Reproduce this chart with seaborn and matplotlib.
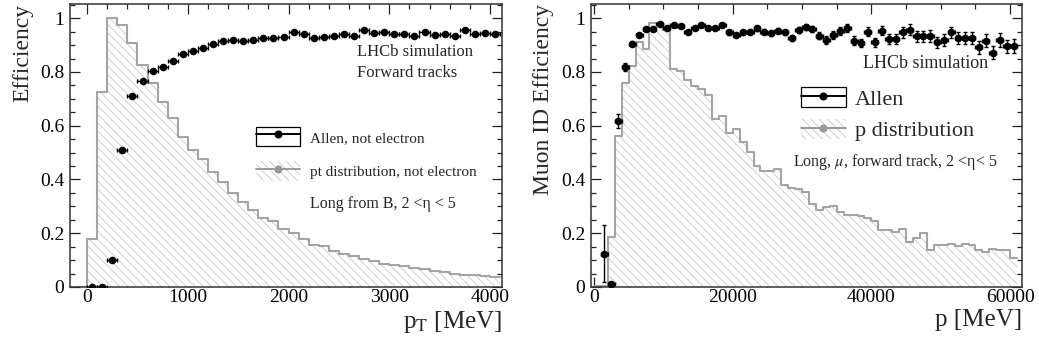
import numpy as np
import pandas as pd
import matplotlib
matplotlib.use("Agg")
import matplotlib.pyplot as plt
from matplotlib.patches import Patch
from matplotlib.lines import Line2D
from matplotlib.ticker import MultipleLocator
import seaborn as sns

# ---- left panel: pT ----
pt_edges = list(range(-100, 4101, 100))
pt_hist = [0.0, 0.178, 0.725, 1.0, 0.975, 0.907, 0.826, 0.758, 0.69, 0.628,
           0.558, 0.51, 0.476, 0.426, 0.389, 0.349, 0.315, 0.287, 0.256, 0.244,
           0.216, 0.2, 0.178, 0.157, 0.151, 0.133, 0.124, 0.114, 0.104, 0.095,
           0.087, 0.08, 0.077, 0.071, 0.067, 0.061, 0.055, 0.05, 0.046, 0.043,
           0.04, 0.037]
pt_eff = [0.0, 0.0, 0.099, 0.51, 0.711, 0.768, 0.804, 0.82, 0.839, 0.866,
          0.877, 0.888, 0.905, 0.915, 0.92, 0.917, 0.918, 0.925, 0.926, 0.93,
          0.948, 0.94, 0.928, 0.93, 0.935, 0.94, 0.935, 0.956, 0.945, 0.947,
          0.94, 0.94, 0.935, 0.947, 0.937, 0.94, 0.935, 0.957, 0.94, 0.945,
          0.943]
pt_eff_err = [0.002, 0.002, 0.006, 0.008, 0.007, 0.006, 0.006, 0.005, 0.005, 0.005,
              0.005, 0.005, 0.005, 0.005, 0.005, 0.005, 0.005, 0.005, 0.005, 0.005,
              0.005, 0.005, 0.005, 0.005, 0.005, 0.005, 0.005, 0.005, 0.005, 0.005,
              0.005, 0.005, 0.005, 0.005, 0.005, 0.005, 0.005, 0.006, 0.006, 0.006,
              0.006]

# ---- right panel: p ----
p_edges = list(range(0, 61001, 1000))
p_hist = [0.005, 0.005, 0.186, 0.56, 0.758, 0.823, 0.911, 0.885, 0.984, 0.984,
          0.957, 0.81, 0.802, 0.77, 0.746, 0.736, 0.715, 0.625, 0.637, 0.572,
          0.587, 0.538, 0.504, 0.449, 0.43, 0.432, 0.44, 0.38, 0.368, 0.364,
          0.352, 0.31, 0.287, 0.297, 0.30, 0.278, 0.269, 0.267, 0.263, 0.255,
          0.244, 0.211, 0.211, 0.203, 0.216, 0.167, 0.182, 0.20, 0.136, 0.155,
          0.155, 0.161, 0.151, 0.161, 0.155, 0.139, 0.13, 0.141, 0.139, 0.139,
          0.108]
p_eff = [0.124, 0.012, 0.618, 0.818, 0.905, 0.936, 0.959, 0.959, 0.979, 0.965,
         0.975, 0.971, 0.948, 0.963, 0.975, 0.963, 0.963, 0.975, 0.947, 0.937,
         0.947, 0.95, 0.963, 0.95, 0.944, 0.954, 0.947, 0.926, 0.957, 0.967,
         0.959, 0.934, 0.919, 0.938, 0.954, 0.963, 0.917, 0.907, 0.95, 0.911,
         0.954, 0.922, 0.922, 0.947, 0.957, 0.932, 0.932, 0.934, 0.91, 0.919,
         0.947, 0.926, 0.926, 0.926, 0.892, 0.917, 0.872, 0.919, 0.895, 0.897]
p_eff_err = [0.105, 0.006, 0.025, 0.015, 0.01, 0.007, 0.006, 0.006, 0.006, 0.006,
             0.006, 0.006, 0.006, 0.006, 0.006, 0.006, 0.007, 0.007, 0.008, 0.008,
             0.008, 0.008, 0.009, 0.009, 0.01, 0.01, 0.01, 0.011, 0.011, 0.012,
             0.012, 0.013, 0.014, 0.014, 0.015, 0.015, 0.016, 0.016, 0.017, 0.017,
             0.018, 0.018, 0.019, 0.019, 0.02, 0.02, 0.02, 0.021, 0.021, 0.022,
             0.022, 0.022, 0.023, 0.023, 0.024, 0.024, 0.025, 0.025, 0.025, 0.025]

sns.set_theme(style="ticks")
plt.rcParams["font.family"] = ["Liberation Serif", "DejaVu Serif"]
plt.rcParams["mathtext.fontset"] = "stix"
plt.rcParams["hatch.linewidth"] = 0.6

HIST_LINE = "#a4a4a4"
HATCH = "#c8c8c8"


def draw_panel(ax, edges, hist, eff, eff_err, xlim, major, minor):
    e = np.asarray(edges, dtype=float)
    centers = (e[:-1] + e[1:]) / 2
    width = e[1] - e[0]
    df = pd.DataFrame({"x": centers, "w": hist})
    # hatched fill
    sns.histplot(data=df, x="x", weights="w", bins=edges, element="step", fill=True,
                 facecolor="white", edgecolor=HATCH, linewidth=0, hatch="\\\\\\\\",
                 alpha=1, ax=ax)
    # outline
    sns.histplot(data=df, x="x", weights="w", bins=edges, element="step", fill=False,
                 color=HIST_LINE, linewidth=1.5, ax=ax)
    ecent = centers[len(centers) - len(eff):]
    ax.errorbar(ecent, eff, yerr=eff_err, xerr=width / 2, fmt="none",
                ecolor="black", elinewidth=1.0, capsize=1.5, capthick=1.0, zorder=4)
    sns.scatterplot(x=ecent, y=eff, color="black", edgecolor="black", s=30,
                    linewidth=0, zorder=5, ax=ax)
    ax.set_xlim(*xlim)
    ax.set_ylim(0, 1.053)
    ax.xaxis.set_major_locator(MultipleLocator(major))
    ax.xaxis.set_minor_locator(MultipleLocator(minor))
    ax.yaxis.set_major_locator(MultipleLocator(0.2))
    ax.yaxis.set_minor_locator(MultipleLocator(0.05))
    ax.yaxis.set_major_formatter(plt.FuncFormatter(lambda v, p: "%g" % round(v, 2)))
    ax.tick_params(which="both", direction="in", top=True, right=True,
                   labelsize=14, colors="#222222", labelcolor="black")
    ax.tick_params(which="major", length=7, width=0.9)
    ax.tick_params(which="minor", length=3.6, width=0.9)
    ax.tick_params(axis="x", pad=1.5)
    ax.tick_params(axis="y", pad=4)
    for s in ax.spines.values():
        s.set_linewidth(1.1)
        s.set_color("#333333")
    ax.set_ylabel("")
    ax.set_xlabel("")


fig = plt.figure(figsize=(10.39, 3.47), dpi=100)
ax1 = fig.add_axes([0.0674, 0.173, 0.4158, 0.8156])
ax2 = fig.add_axes([0.5688, 0.173, 0.4148, 0.8156])

draw_panel(ax1, pt_edges, pt_hist, pt_eff, pt_eff_err, (-170, 4120), 1000, 200)
draw_panel(ax2, p_edges, p_hist, p_eff, p_eff_err, (-430, 61700), 20000, 5000)

ax1.set_xlabel(r"p$_{\mathrm{T}}$ [MeV]", loc="right", fontsize=18, labelpad=2)
ax1.set_ylabel("Efficiency", loc="top", fontsize=17, labelpad=5)
ax2.set_xlabel("p [MeV]", loc="right", fontsize=18, labelpad=2)
ax2.set_ylabel("Muon ID Efficiency", loc="top", fontsize=17, labelpad=5)


def legend_handles():
    h1 = (Patch(facecolor="white", edgecolor="black", linewidth=0.9),
          Line2D([], [], color="black", marker="o", markersize=4.8, linewidth=1.4))
    h2 = (Patch(facecolor="white", edgecolor=HATCH, linewidth=0, hatch="\\\\\\\\"),
          Line2D([], [], color="#999999", marker="o", markersize=4.8, linewidth=1.4))
    return [h1, h2]


ax1.legend(legend_handles(), ["Allen, not electron", "pt distribution, not electron"],
           loc="upper left", bbox_to_anchor=(0.43, 0.565), borderaxespad=0,
           borderpad=0, frameon=False, fontsize=11, handlelength=2.9,
           handleheight=1.57, handletextpad=0.65, labelspacing=0.98, numpoints=1)
ax1.text(0.664, 0.83, "LHCb simulation", transform=ax1.transAxes, fontsize=12,
         va="center", ha="left")
ax1.text(0.664, 0.756, "Forward tracks", transform=ax1.transAxes, fontsize=12,
         va="center", ha="left")
ax1.text(0.556, 0.293, "Long from B, 2 <η < 5", transform=ax1.transAxes,
         fontsize=11.5, va="center", ha="left")

ax2.legend(legend_handles(), ["Allen", "p distribution"],
           loc="upper left", bbox_to_anchor=(0.487, 0.706), borderaxespad=0,
           borderpad=0, frameon=False, fontsize=16, handlelength=2.03,
           handleheight=1.0, handletextpad=0.4, labelspacing=0.41, numpoints=1)
ax2.text(0.631, 0.79, "LHCb simulation", transform=ax2.transAxes, fontsize=13,
         va="center", ha="left")
ax2.text(0.469, 0.442, r"Long, $\mu$, forward track, 2 <η< 5", transform=ax2.transAxes,
         fontsize=11.5, va="center", ha="left")

fig.savefig("out.png", dpi=100)
